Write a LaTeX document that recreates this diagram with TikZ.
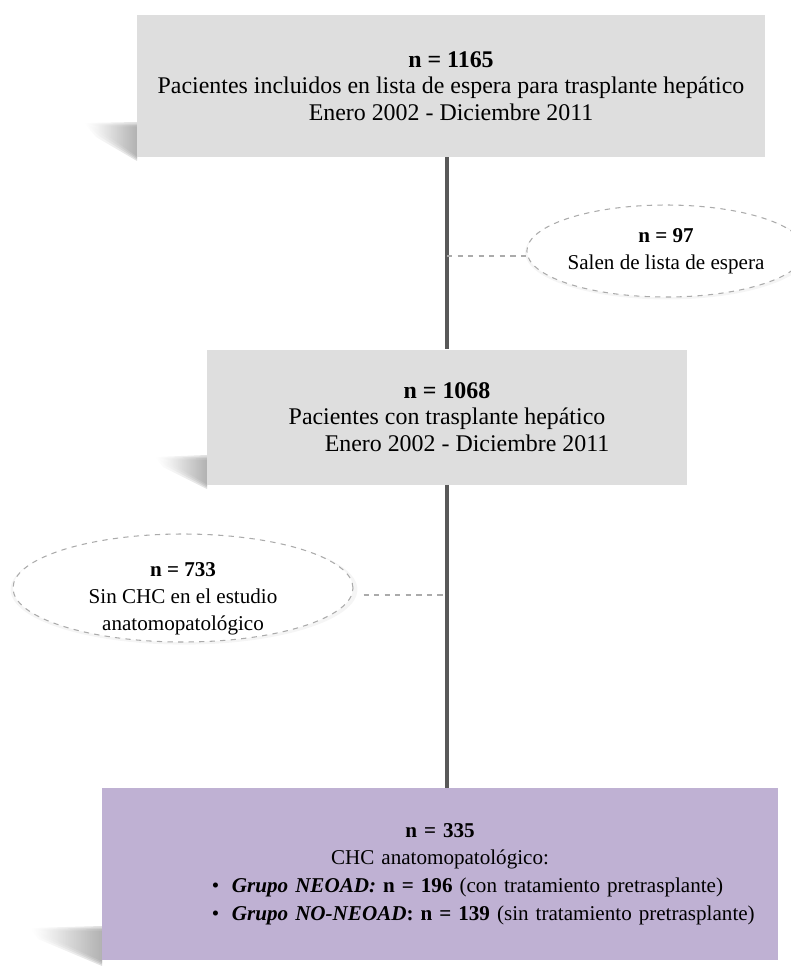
\documentclass[tikz,border=0pt]{standalone}
\usepackage{fontspec}
\setmainfont{Liberation Serif}
\usepackage{tikz}
\usetikzlibrary{shapes.geometric,shadows}
\definecolor{boxgray}{HTML}{DEDEDE}
\definecolor{lila}{HTML}{BFB1D3}
\definecolor{spinegray}{HTML}{595959}
\definecolor{dashgray}{HTML}{ABABAB}

\begin{document}
\begin{tikzpicture}[x=0.2mm,y=-0.2mm,
    caja/.style={fill=boxgray, inner sep=0pt, align=center, font=\fontsize{13.6}{15.2}\selectfont},
    elipse/.style={ellipse, draw=dashgray, dashed, line width=0.6pt, fill=white, inner sep=0pt, align=center,
        font=\fontsize{12}{15.5}\selectfont,
        drop shadow={shadow scale=1.02, shadow xshift=0.2mm, shadow yshift=-0.3mm, opacity=0.08}},
    tronco/.style={spinegray, line width=2.8pt},
    rama/.style={dashgray, dashed, line width=0.7pt},
    sombra/.style={left color=white, right color=black!40, opacity=0.3}]
    \useasboundingbox (0,0) rectangle (791,969);
    % sombras
    \foreach \d in {0,3,6,9} {
        \shade[sombra] (84+\d,123+\d/3) -- (137,122+\d/2) -- (137,161-\d/2) -- (96+\d,137-\d/3) -- cycle;
        \shade[sombra] (155+\d,457+\d/3) -- (207,455+\d/2) -- (207,489-\d/2) -- (163+\d,467-\d/3) -- cycle;
        \shade[sombra] (30+\d,928+\d/3) -- (102,926+\d/2) -- (102,966-\d/2) -- (38+\d,939-\d/3) -- cycle;
    }
    % cajas
    \node[caja, minimum width=125.6mm, minimum height=28.4mm] (n1165) at (451,86)
        {\textbf{n = 1165}\\Pacientes incluidos en lista de espera para trasplante hepático\\Enero 2002 - Diciembre 2011};
    \node[caja, minimum width=96mm, minimum height=27mm] (n1068) at (447,417)
        {\textbf{n = 1068}\\Pacientes con trasplante hepático\\\hspace*{8mm}Enero 2002 - Diciembre 2011};
    \node[caja, fill=lila, align=left, text width=135.2mm, minimum height=34.4mm,
          font=\fontsize{12}{15.8}\selectfont] (n335) at (440,874)
        {\makebox[135.2mm]{\textbf{n = 335}}\\
         \makebox[135.2mm]{CHC anatomopatológico:}\\
         \hspace*{22mm}\makebox[4mm][l]{\large\textbullet}\textbf{\textit{Grupo NEOAD:}} \textbf{n = 196} (con tratamiento pretrasplante)\\
         \hspace*{22mm}\makebox[4mm][l]{\large\textbullet}\textbf{\textit{Grupo NO-NEOAD}: n = 139} (sin tratamiento pretrasplante)};
    % elipses
    \node[elipse, minimum width=50mm, minimum height=18.4mm] (n97) at (666,251)
        {\textbf{n = 97}\\Salen de lista de espera};
    \node[elipse, minimum width=68mm, minimum height=21.6mm] (n733) at (183,588)
        {\raisebox{-3.1mm}[0pt][0pt]{\begin{tabular}{@{}c@{}}\textbf{n = 733}\\Sin CHC en el estudio\\anatomopatológico\end{tabular}}};
    \coordinate (c97) at ([yshift=-1mm]n97.west);
    \coordinate (c733) at ([xshift=2mm,yshift=-1.4mm]n733.east);
    % lineas
    \draw[tronco] (n1068.north |- n1165.south) -- (n1068.north);
    \draw[tronco] (n1068.south) -- (n1068.south |- n335.north);
    \draw[rama] (n1068.north |- c97) -- (c97);
    \draw[rama] (c733) -- (n1068.south |- c733);
\end{tikzpicture}
\end{document}
